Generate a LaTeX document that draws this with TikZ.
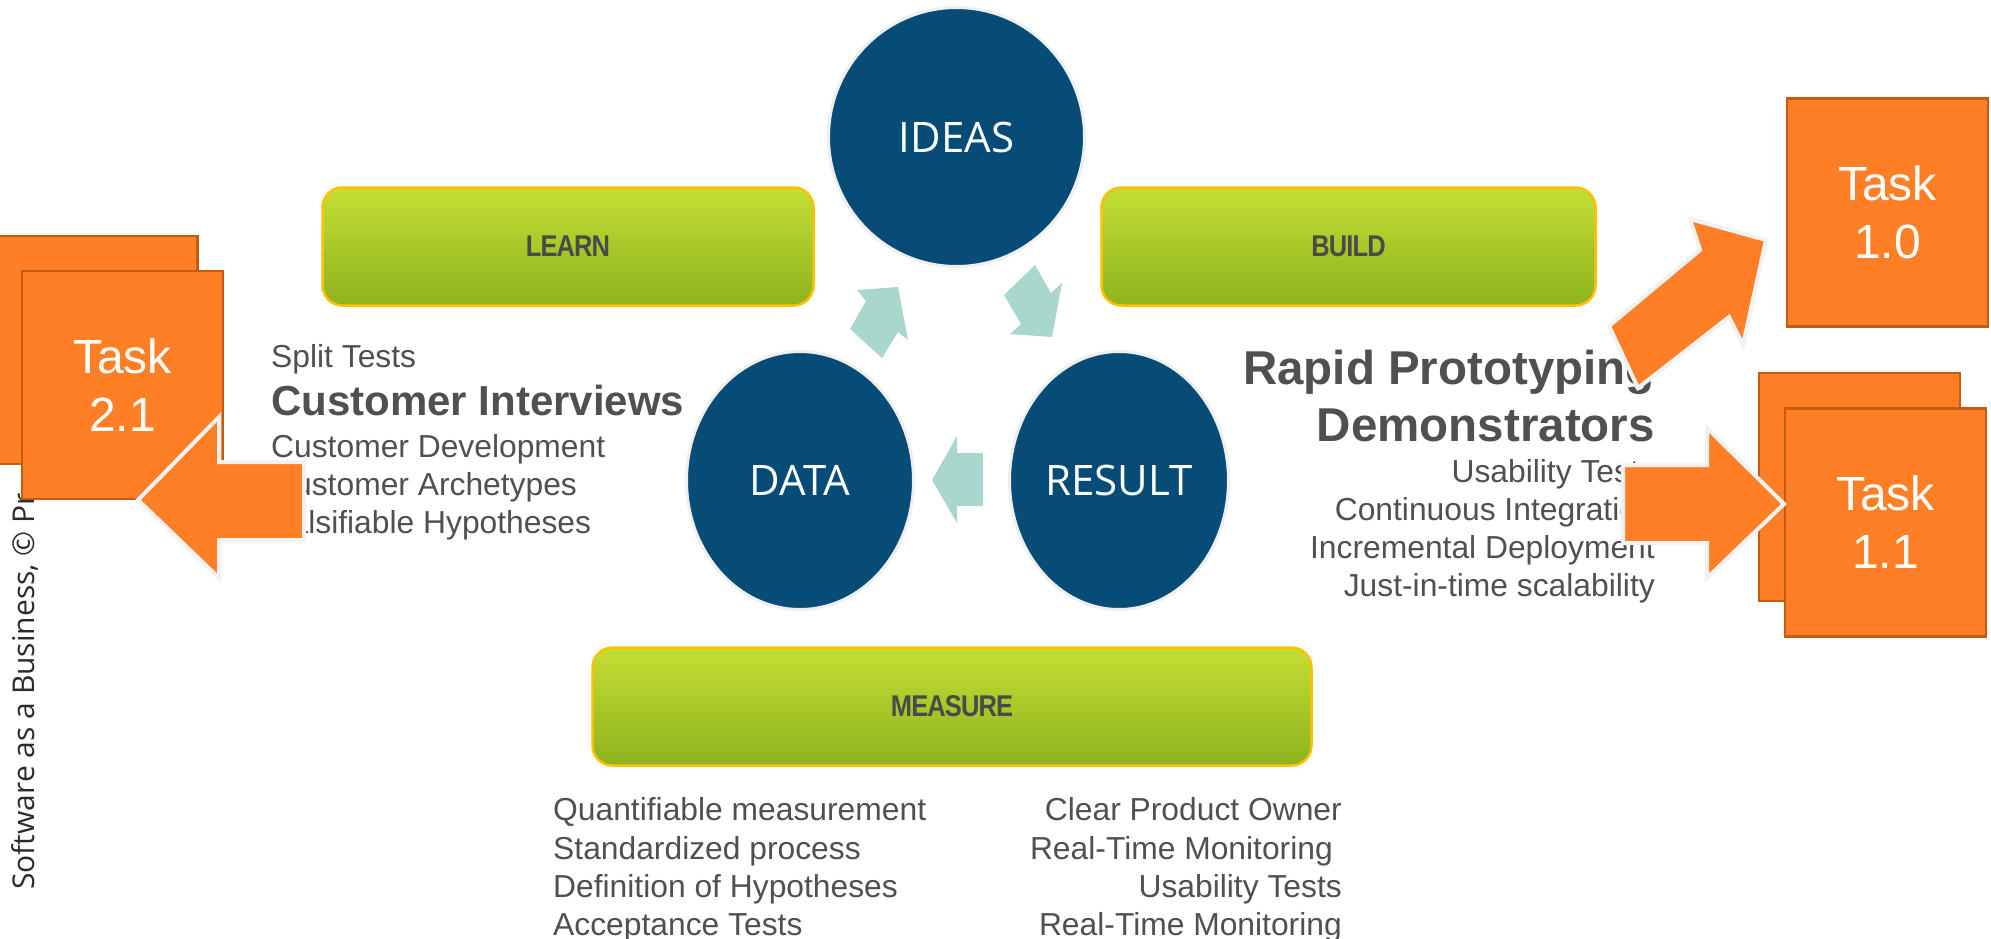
\documentclass[tikz,border=0pt]{standalone}
\usepackage{fontspec}
\setmainfont{Liberation Sans}
\newfontfamily\circlefont{Open Sans}
\newfontfamily\labelfont[FakeStretch=0.85,LetterSpace=-3]{Liberation Sans}
\usetikzlibrary{shapes.geometric}

\definecolor{ideablue}{HTML}{064C76}
\definecolor{ringgrey}{HTML}{EFEFEF}
\definecolor{cycleteal}{HTML}{AAD7CD}
\definecolor{phasetop}{HTML}{C4DE34}
\definecolor{phasebottom}{HTML}{8EB31E}
\definecolor{phaseedge}{HTML}{FFC000}
\definecolor{taskorange}{HTML}{FF7F27}
\definecolor{taskedge}{HTML}{C55A11}
\definecolor{rimwhite}{HTML}{F2F2F2}
\definecolor{textgrey}{HTML}{505050}
\definecolor{labelgrey}{HTML}{4A4A4A}
\definecolor{copygrey}{HTML}{2B2B2B}

\begin{document}
\begin{tikzpicture}[x=1pt, y=-1pt,
		stage/.style={ellipse, inner sep=0pt, draw=ringgrey, line width=3pt, fill=ideablue, text=white, font={\circlefont\fontsize{42}{42}\selectfont}},
		phase/.style={rectangle, rounded corners=20pt, draw=phaseedge, line width=2.5pt, top color=phasetop, bottom color=phasebottom, minimum height=118pt, text=labelgrey, font={\labelfont\bfseries\fontsize{30}{30}\selectfont}},
		task/.style={rectangle, draw=taskedge, line width=2.5pt, fill=taskorange, minimum width=201pt, minimum height=228pt, text=white, align=center, font={\fontsize{48}{58}\selectfont}},
		note/.style={inner sep=0pt, text=textgrey, font={\fontsize{31.8}{38}\selectfont}},
		keynote/.style={note, font={\bfseries\fontsize{42}{48}\selectfont}},
		bignote/.style={note, font={\bfseries\fontsize{47.5}{54}\selectfont}},
		cyclearrow/.style={fill=cycleteal},
		taskarrow/.style={fill=taskorange, draw=rimwhite, line width=4pt, line join=miter}]
				
				\useasboundingbox (0,0) rectangle (1991,939);
				\clip (0,0) rectangle (1991,939);
				
				% side note
				\node[rotate=90, anchor=base west, inner sep=0pt, text=copygrey, font={\circlefont\fontsize{30}{30}\selectfont}] (Copy) at (34,890) {Software as a Business, © Pr};
				
				% learn texts
				\node[note, anchor=base west] (Split) at (271,367) {Split Tests};
				\node[keynote, anchor=base west] (Interviews) at (271,415) {Customer Interviews};
				\node[note, anchor=base west] (Development) at (271,457) {Customer Development};
				\node[note, anchor=base west] (Archetypes) at (271,495) {Customer Archetypes};
				\node[note, anchor=base west] (Hypotheses) at (271,533) {Falsifiable Hypotheses};
				
				% build texts
				\node[bignote, anchor=base east] (Rapid) at (1655,384) {Rapid Prototyping};
				\node[bignote, anchor=base east] (Demo) at (1655,441) {Demonstrators};
				\node[note, anchor=base east] (Usability) at (1655,482) {Usability Tests};
				\node[note, anchor=base east] (Integration) at (1655,520) {Continuous Integration};
				\node[note, anchor=base east] (Deployment) at (1655,558) {Incremental Deployment};
				\node[note, anchor=base east] (Scalability) at (1655,596) {Just-in-time scalability};
				
				% measure texts
				\node[note, anchor=base west] (M1) at (553,820) {Quantifiable measurement};
				\node[note, anchor=base west] (M2) at (553,859) {Standardized process};
				\node[note, anchor=base west] (M3) at (553,897) {Definition of Hypotheses};
				\node[note, anchor=base west] (M4) at (553,935) {Acceptance Tests};
				\node[note, anchor=base east] (M5) at (1342,820) {Clear Product Owner};
				\node[note, anchor=base east] (M6) at (1342,859) {Real-Time Monitoring\kern9pt};
				\node[note, anchor=base east] (M7) at (1342,897) {Usability Tests};
				\node[note, anchor=base east] (M8) at (1342,935) {Real-Time Monitoring};
				
				% phases
				\node[phase, minimum width=491pt] (Learn) at (568,246.5) {LEARN};
				\node[phase, minimum width=494pt] (Build) at (1348.5,246.5) {BUILD};
				\node[phase, minimum width=719pt] (Measure) at (952,706.5) {MEASURE};
				
				% cycle
				\node[stage, minimum width=256pt, minimum height=259pt] (Ideas) at (956.5,137) {IDEAS};
				\node[stage, minimum width=227pt, minimum height=258pt] (Data) at (800,480.5) {DATA};
				\node[stage, minimum width=219pt, minimum height=258pt] (Result) at (1119,480.5) {RESULT};
				
				\fill[cyclearrow] (898,287) -- (908,340) -- (898,332) -- (882,358) -- (850,329) -- (866,301) -- (857,290) -- cycle;
				\fill[cyclearrow] (1004,295) -- (1035,265) -- (1051,293) -- (1062,283) -- (1052,337) -- (1010,334) -- (1021,324) -- cycle;
				\fill[cyclearrow] (932,480) -- (957,436) -- (957,453) -- (983,453) -- (983,506) -- (957,506) -- (957,523) -- cycle;
				
				% tasks
				\node[task] (T21b) at (97,350) {};
				\node[task] (T21) at (122.5,385) {Task\\2.1};
				\node[task] (T10) at (1887.5,212.5) {Task\\1.0};
				\node[task] (T11b) at (1859.5,487) {};
				\node[task] (T11) at (1885.5,522.5) {Task\\1.1};
				
				\draw[taskarrow] (138,500) -- (219,417) -- (219,462) -- (304,462) -- (304,540) -- (219,540) -- (219,578) -- cycle;
				\draw[taskarrow] (1609,326) -- (1700,250) -- (1690,219) -- (1766,240) -- (1743,345) -- (1729,317) -- (1638,388) -- cycle;
				\draw[taskarrow] (1623,465) -- (1707,465) -- (1707,428) -- (1784,504) -- (1707,578) -- (1707,543) -- (1623,543) -- cycle;
				
			\end{tikzpicture}
\end{document}
